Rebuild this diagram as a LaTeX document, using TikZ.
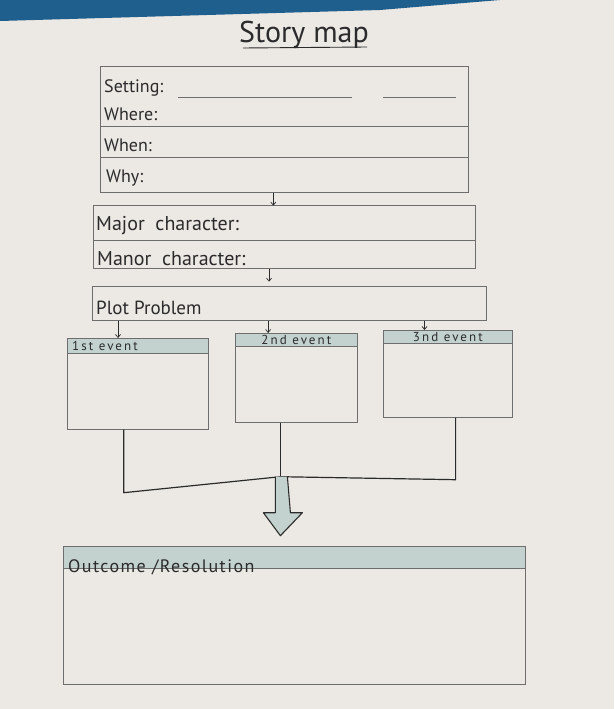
\documentclass[tikz,border=0pt]{standalone}
\usepackage{fontspec}
\setmainfont{PT Sans}
\usetikzlibrary{calc,arrows.meta}
\definecolor{paper}{HTML}{ECE8E4}
\definecolor{band}{HTML}{1F5F8E}
\definecolor{ink}{HTML}{2B2B2B}
\definecolor{rule}{HTML}{6E6E6E}
\definecolor{hdr}{HTML}{C3D2CF}
\tikzset{
  box/.style={draw=rule, line width=0.7pt, rectangle, inner sep=0pt, anchor=north west},
  hbox/.style={box, fill=hdr},
  lbl/.style={anchor=west, inner sep=0pt, text=ink},
  evlbl/.style={inner sep=0pt, text=ink, font=\fontsize{13}{15}\selectfont\addfontfeature{LetterSpace=16}},
  ruleline/.style={draw=rule, line width=0.6pt},
  tip/.style={draw=ink, line width=0.7pt, -{Straight Barb[length=3pt,width=5pt]}},
  conn/.style={draw=ink, line width=1.2pt, line join=round},
  fatarrow/.style={draw=ink, line width=1.1pt, fill=hdr, line join=round}
}
\begin{document}
\begin{tikzpicture}[x=1pt,y=-1pt]
\useasboundingbox (0,0) rectangle (614,709);
\fill[paper] (0,0) rectangle (614,709);
\fill[band] (0,0) -- (500,0) -- (380,10) -- (0,21) -- cycle;
% title
\node[inner sep=0pt, text=ink, font=\fontsize{30}{32}\selectfont] (title) at (304,35) {Story map};
\draw[ink, line width=0.9pt] (243,48) -- (367,47);
% setting box
\node[box, minimum width=368pt, minimum height=126pt] (setting) at (100,66) {};
\draw[ruleline] (178,97) -- (352,97) (383,97) -- (456,97);
\draw[ruleline] (100,126) -- (468,126);
\draw[ruleline] (100,157) -- (468,157);
\node[lbl, font=\fontsize{18}{20}\selectfont] at (104,88) {Setting:};
\node[lbl, font=\fontsize{18}{20}\selectfont] at (104,114) {Where:};
\node[lbl, font=\fontsize{18}{20}\selectfont] at (104,145) {When:};
\node[lbl, font=\fontsize{18}{20}\selectfont] at (106,178) {Why:};
% major box
\node[box, minimum width=382pt, minimum height=63pt] (major) at (93,205) {};
\draw[ruleline] (93,240) -- (475,240);
\node[lbl, font=\fontsize{20}{22}\selectfont] at (96,226) {Major\ \ character:};
\node[lbl, font=\fontsize{20}{22}\selectfont] at (97,259) {Manor\ \ character:};
% plot box
\node[box, minimum width=394pt, minimum height=34pt] (plot) at (92,286) {};
\node[lbl, font=\fontsize{19}{21}\selectfont] at (96,308) {Plot Problem};
% events
\node[box, minimum width=141pt, minimum height=91pt] (e1) at (67,338) {};
\node[hbox, minimum width=141pt, minimum height=15pt] (h1) at (67,338) {};
\node[evlbl, anchor=west] at (72,346) {1st event};
\node[box, minimum width=122pt, minimum height=89pt] (e2) at (235,333) {};
\node[hbox, minimum width=122pt, minimum height=13pt] (h2) at (235,333) {};
\node[evlbl] at (h2) {2nd event};
\node[box, minimum width=129pt, minimum height=87pt] (e3) at (383,330) {};
\node[hbox, minimum width=129pt, minimum height=13pt] (h3) at (383,330) {};
\node[evlbl] at (h3) {3nd event};
% outcome
\node[box, minimum width=462pt, minimum height=138pt] (out) at (63,546) {};
\node[hbox, minimum width=462pt, minimum height=22pt] (ho) at (63,546) {};
\node[lbl, font=\fontsize{18}{20}\selectfont\addfontfeature{LetterSpace=8}] at (68,567) {Outcome /Resolution};
% small arrows
\draw[tip] ($(setting.south west)!0.47!(setting.south east)$) -- ++(0,13);
\draw[tip] ($(major.south west)!0.46!(major.south east)$) -- ++(0,13);
\coordinate (a1) at ($(h1.north west)!0.36!(h1.north east)$);
\coordinate (a2) at ($(h2.north west)!0.27!(h2.north east)$);
\coordinate (a3) at ($(h3.north west)!0.32!(h3.north east)$);
\draw[tip] (a1 |- plot.south) -- (a1);
\draw[tip] (a2 |- plot.south) -- (a2);
\draw[tip] (a3 |- plot.south) -- (a3);
% bracket
\coordinate (j) at ($(e2.south west)!0.37!(e2.south east) + (0,54)$);
\coordinate (b1) at ($(e1.south west)!0.40!(e1.south east)$);
\coordinate (b3) at ($(e3.south west)!0.56!(e3.south east)$);
\draw[conn] (b1) -- ($(b1)+(0,63)$) -- (j) -- ($(b3 |- j)+(0,3)$) -- (b3);
\draw[conn] ($(e2.south west)!0.37!(e2.south east)$) -- (j);
% fat arrow
\draw[fatarrow] ($(j)+(-5,0)$) -- ++(0,36) -- ++(-12,0) -- ($(j)+(0,59)$) -- ($(j)+(22,36)$) -- ++(-12,0) -- ($(j)+(7,0)$);
\end{tikzpicture}
\end{document}
